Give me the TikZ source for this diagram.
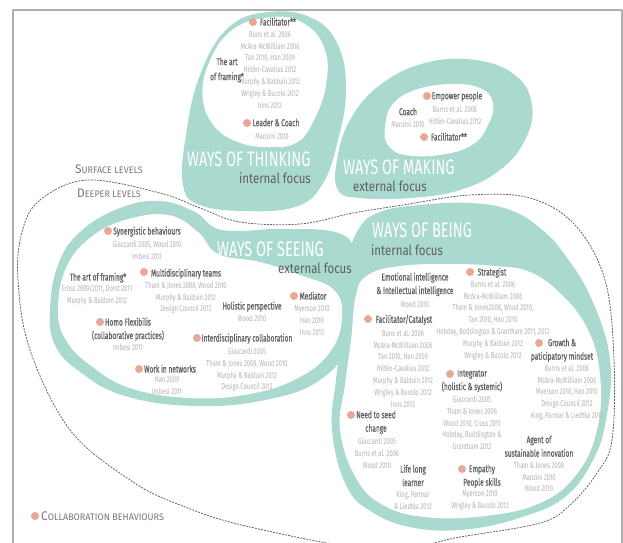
\documentclass[tikz,border=0pt]{standalone}
\usepackage{fontspec}
\setmainfont[FakeStretch=0.68]{Fira Sans}
\newfontfamily\headfont[FakeStretch=0.66, FakeBold=0.5]{Fira Sans}
\newfontfamily\titlefont[FakeStretch=0.69]{Fira Sans}
\newfontfamily\focusfont[FakeStretch=0.82]{Fira Sans}
\newfontfamily\levelfont[FakeStretch=0.95]{Fira Sans}
\definecolor{tealbg}{RGB}{170,217,208}
\definecolor{dotc}{RGB}{232,168,148}
\definecolor{hdgrey}{RGB}{95,95,95}
\definecolor{ctgrey}{RGB}{178,178,178}
\definecolor{framegrey}{RGB}{175,175,175}
\begin{document}
\begin{tikzpicture}[x=1pt, y=-1pt, line join=round, line cap=round,
    hd/.style={text=hdgrey, font=\headfont\fontsize{10}{13.5}\selectfont, align=center, anchor=north, inner sep=0pt},
    ct/.style={text=ctgrey, font=\fontsize{8.5}{11.8}\selectfont, align=center, anchor=north, inner sep=0pt},
    ways/.style={text=white, font=\titlefont\fontsize{21}{21}\selectfont, anchor=base west, inner sep=0pt},
    focus/.style={text=hdgrey, font=\focusfont\fontsize{14}{14}\selectfont, anchor=base west, inner sep=0pt},
    level/.style={text=hdgrey!85, font=\levelfont, anchor=base west, inner sep=0pt}]
  \useasboundingbox (0,0) rectangle (623,542);
  \clip (0,0) rectangle (623,542);
  % frame
  \draw[framegrey, line width=1.5pt] (13,545) -- (13,10) -- (622,10) -- (622,545);
  % blobs, teal
  \fill[tealbg] plot[smooth cycle, tension=0.7] coordinates {(268,12) (312,18) (338,45) (346,90) (338,140) (322,185) (295,207) (245,211) (200,205) (183,185) (186,135) (200,75) (228,28)};
  \fill[tealbg] plot[smooth cycle, tension=0.7] coordinates {(338,190) (337,160) (350,120) (380,85) (425,63) (475,60) (515,75) (532,105) (525,140) (500,170) (460,190) (410,198) (360,198)};
  \fill[tealbg] plot[smooth cycle, tension=0.7] coordinates {(50,310) (58,265) (80,232) (120,208) (160,201) (195,212) (222,230) (280,229) (335,232) (355,250) (362,290) (352,340) (320,380) (265,400) (195,406) (125,396) (80,372) (55,345)};
  \fill[tealbg] plot[smooth cycle, tension=0.7] coordinates {(342,330) (346,270) (358,230) (380,212) (420,205) (470,203) (510,210) (540,228) (565,255) (592,300) (610,360) (606,420) (592,462) (565,497) (525,516) (470,529) (415,528) (372,512) (346,485) (332,430) (336,380)};
  % blobs, white inside
  \fill[white] plot[smooth cycle, tension=0.7] coordinates {(272,17) (305,24) (325,50) (326,85) (314,120) (296,143) (265,147) (238,142) (215,127) (203,100) (208,65) (232,30)};
  \fill[white] plot[smooth cycle, tension=0.7] coordinates {(385,128) (392,105) (415,90) (450,84) (480,88) (493,103) (488,125) (472,145) (440,155) (405,155) (388,145)};
  \fill[white] plot[smooth cycle, tension=0.7] coordinates {(58,310) (66,268) (90,238) (125,220) (168,215) (198,232) (218,254) (260,262) (300,275) (334,290) (342,318) (330,352) (298,378) (250,394) (190,398) (130,388) (90,365) (66,340)};
  \fill[white] plot[smooth cycle, tension=0.7] coordinates {(351,340) (356,295) (368,275) (400,266) (450,264) (495,266) (530,272) (562,295) (588,330) (600,375) (597,430) (576,475) (540,503) (485,516) (425,517) (383,505) (356,478) (340,430) (345,385)};
  % surface / deeper
  \draw[hdgrey, line width=0.8pt, dash pattern=on 1.5pt off 1.6pt] plot[smooth cycle, tension=0.6] coordinates {(22,232) (40,200) (87,180) (160,193) (200,208) (240,222) (300,224) (353,213) (403,205) (470,195) (530,198) (575,225) (605,280) (614,360) (612,440) (597,473) (570,505) (540,523) (460,537) (380,550) (250,527) (180,505) (130,480) (70,430) (30,350) (18,280)};
  \node[level] (surf) at (75,173) {{\fontsize{12.5}{12.5}\selectfont S}{\fontsize{9.5}{9.5}\selectfont URFACE LEVELS}};
  \node[level] (deep) at (77,197) {{\fontsize{12.5}{12.5}\selectfont D}{\fontsize{9.5}{9.5}\selectfont EEPER LEVELS}};
  % titles
  \node[ways] (thinking) at (187,166) {WAYS OF THINKING};
  \node[focus, anchor=base east] (thinkingF) at (311,183) {internal focus};
  \node[ways] (making) at (343,174) {WAYS OF MAKING};
  \node[focus] (makingF) at (353,191) {external focus};
  \node[ways] (seeing) at (217,256) {WAYS OF SEEING};
  \node[focus] (seeingF) at (278,273) {external focus};
  \node[ways] (being) at (372,237) {WAYS OF BEING};
  \node[focus] (beingF) at (371,255) {internal focus};
  % ways of thinking
  \node[hd] (thFac) at (278,17.5) {Facilitator**};
  \node[ct] (thFacC) at (270,30.7) {Buns et al. 2006\\McAra-McWilliam 2006\\Tan 2010, Han 2009\\Hiltén-Cavalius 2012\\Murphy \& Balduin 2012\\Wrigley \& Bucolo 2012\\Inns 2013};
  \node[hd] (thArt) at (227,57.5) {The art\\[1.5pt]of framing*};
  \node[hd] (thLead) at (276,118.5) {Leader \& Coach};
  \node[ct] (thLeadC) at (272,132.7) {Manzini 2010};
  % ways of making
  \node[hd] (mkEmp) at (457,91.5) {Empower people};
  \node[ct] (mkEmpC) at (455,105.7) {Burns et al. 2006\\Hiltén-Cavalius 2012};
  \node[hd] (mkCoach) at (408,107.5) {Coach};
  \node[ct] (mkCoachC) at (408,120.7) {Manzini 2010};
  \node[hd] (mkFac) at (449,132.5) {Facilitator**};
  % ways of seeing
  \node[hd] (seSyn) at (147,226.5) {Synergistic behaviours};
  \node[ct] (seSynC) at (147,240.7) {Giaccardi 2005, Wood 2010\\Imbesi 2011};
  \node[hd] (seArt) at (98,272.5) {The art of framing*};
  \node[ct] (seArtC) at (97,284.7) {Cross 2009/2011, Dorst 2011\\Murphy \& Balduin 2012};
  \node[hd] (seMul) at (186,268.5) {Multidisciplinary teams};
  \node[ct] (seMulC) at (186,281.7) {Tham \& Jones 2008, Wood 2010\\Murphy \& Balduin 2012\\Design Council 2012};
  \node[hd] (seHomo) at (128,317.5) {Homo Flexibilis\\(collaborative practices)};
  \node[ct] (seHomoC) at (128,343.7) {Imbesi 2011};
  \node[hd] (seHol) at (252,301.5) {Holistic perspective};
  \node[ct] (seHolC) at (252,314.7) {Wood 2010};
  \node[hd] (seMed) at (313,291.5) {Mediator};
  \node[ct] (seMedC) at (312,305.7) {Myerson 2010\\Han 2010\\Inns 2013};
  \node[hd] (seInt) at (247,333.5) {Interdisciplinary collaboration};
  \node[ct] (seIntC) at (247,347.7) {Giaccardi 2005\\Tham \& Jones 2008, Wood 2010\\Murphy \& Balduin 2012\\Design Council 2012};
  \node[hd] (seWork) at (170,364.5) {Work in networks};
  \node[ct] (seWorkC) at (167,376.7) {Han 2009\\Imbesi 2011};
  % ways of being
  \node[hd] (beEmo) at (415,272.5) {Emotional intelligence\\\& Intellectual intelligence};
  \node[ct] (beEmoC) at (415,300.7) {Wood 2010};
  \node[hd] (beFac) at (404,314.5) {Facilitator/Catalyst};
  \node[ct] (beFacC) at (403,329.7) {Buns et al. 2006\\McAra-McWilliam 2006\\Tan 2010, Han 2009\\Hiltén-Cavalius 2012\\Murphy \& Balduin 2012\\Wrigley \& Bucolo 2012\\Inns 2013};
  \node[hd] (beStr) at (492,267.5) {Strategist};
  \node[ct] (beStrC) at (493,280.7) {Burns et al. 2006\\McAra-McWilliam 2006\\Tham \& Jones2008, Wood 2010,\\Tan 2010, Han 2010\\Hobday, Boddington \& Grantham 2011, 2012\\Murphy \& Balduin 2012\\Wrigley \& Bucolo 2012};
  \node[hd] (beGro) at (562,338.5) {Growth \&\\paticipatory mindset};
  \node[ct] (beGroC) at (567,364.7) {Burns et al. 2006\\McAra-McWilliam 2006\\Myerson 2010, Han 2010\\Design Council 2012\\King, Parmar \& Liedtka 2012};
  \node[hd] (beInt) at (472,369.5) {Integrator\\(holistic \& systemic)};
  \node[ct] (beIntC) at (472,395.7) {Giaccardi 2005\\Tham \& Jones 2008\\Wood 2010, Cross 2011\\Hobday, Boddington \&\\Grantham 2012};
  \node[hd] (beSeed) at (376,410.5) {Need to seed\\change};
  \node[ct] (beSeedC) at (377,437.7) {Giaccardi 2005\\Burns et al. 2006\\Wood 2010};
  \node[hd] (beLife) at (413,464.5) {Life long\\learner};
  \node[ct] (beLifeC) at (413,490.7) {King, Parmar\\\& Liedtka 2012};
  \node[hd] (beEmp) at (482,464.5) {Empathy\\People skills};
  \node[ct] (beEmpC) at (480,490.7) {Myerson 2010\\Wrigley \& Bucolo 2012};
  \node[hd] (beAg) at (539,435.5) {Agent of\\sustainable innovation};
  \node[ct] (beAgC) at (539,461.7) {Tham \& Jones 2008\\Manzini 2010\\Wood 2010};
  % legend
  \node[level] (collab) at (41,520) {{\fontsize{12.5}{12.5}\selectfont C}{\fontsize{9.5}{9.5}\selectfont OLLABORATION BEHAVIOURS}};
  % dots
  \foreach \p in {(253,22), (247,123), (427,96), (424,137), (108,231), (144,272), (100,322), (294,296), (197,338), (139,369), (368,319), (470,272), (539,343), (450,374), (351,415), (462,469), (35,516)}
    \fill[dotc] \p circle (4);
\end{tikzpicture}
\end{document}
